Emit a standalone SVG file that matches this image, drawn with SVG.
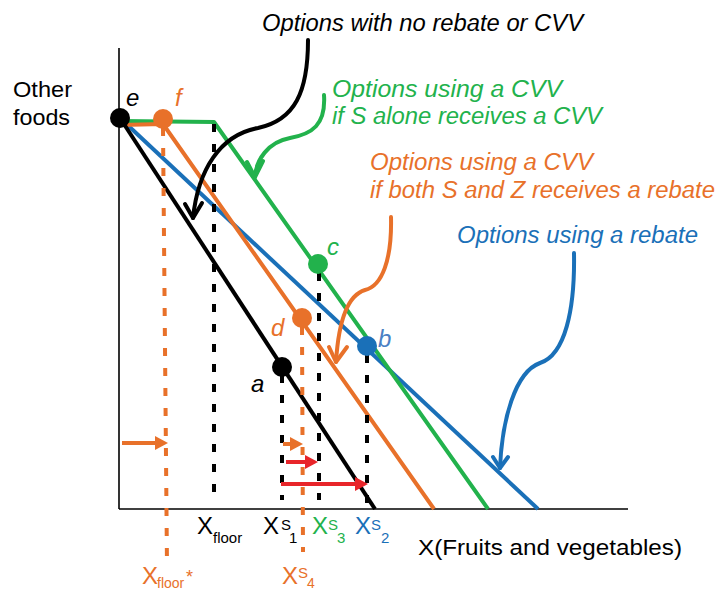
<svg xmlns="http://www.w3.org/2000/svg" width="718" height="592" viewBox="0 0 718 592">
<defs>
<style>
text{font-family:"Liberation Sans",Arial,sans-serif;}
.it{font-style:italic;}
.t22{font-size:22px;}
.t23{font-size:23px;}
.pt{font-size:24px;font-style:italic;}
.xl{font-size:24px;}
.sub{font-size:15px;}
.blk{fill:#000;}
.grn{fill:#22b24c;}
.org{fill:#e8712a;}
.blu{fill:#1a70b8;}
.lblu{fill:#4a80c4;}
.axis{stroke:#000;stroke-width:1.6;fill:none;}
.bl{stroke-width:4;fill:none;stroke-linejoin:round;}
.dash{stroke-width:4;stroke-dasharray:8 12;fill:none;}
.curve{stroke-width:4;fill:none;stroke-linecap:round;stroke-linejoin:round;}
</style>
</defs>

<g id="axes">
<line class="axis" x1="119" y1="48" x2="119" y2="509"/>
<line class="axis" x1="119" y1="509" x2="628" y2="509"/>
</g>

<g id="budget-lines">
<polyline class="bl" stroke="#1a70b8" points="120,118 538,509"/>
<polyline class="bl" stroke="#22b24c" points="120,121 214,122 488,509"/>
<polyline class="bl" stroke="#e8712a" points="120,125 163,124 434,509"/>
<polyline class="bl" stroke="#000" points="120,118 375,509"/>
</g>

<g id="connectors">
<line class="dash" stroke="#000" x1="214" y1="124" x2="214" y2="500"/>
<line class="dash" stroke="#000" x1="282" y1="375" x2="282" y2="500"/>
<line class="dash" stroke="#000" x1="319" y1="273" x2="319" y2="500"/>
<line class="dash" stroke="#000" x1="367" y1="355" x2="367" y2="510"/>
<line class="dash" stroke="#e8712a" x1="163" y1="128" x2="167" y2="566"/>
<line class="dash" stroke="#e8712a" x1="302" y1="327" x2="303" y2="552"/>

<line x1="122" y1="443" x2="156" y2="443" stroke="#e8712a" stroke-width="4"/>
<polygon points="155,436 168,443 155,450" fill="#e8712a"/>
<line x1="283" y1="444" x2="291" y2="444" stroke="#e8712a" stroke-width="4"/>
<polygon points="290,437 303,444 290,451" fill="#e8712a"/>
<line x1="286" y1="462" x2="306" y2="462" stroke="#e8252a" stroke-width="4"/>
<polygon points="305,455 318,462 305,469" fill="#e8252a"/>
<line x1="281" y1="484" x2="356" y2="484" stroke="#e8252a" stroke-width="4"/>
<polygon points="355,477 368,484 355,491" fill="#e8252a"/>

<path class="curve" stroke="#000" d="M308,40 C308,92 295,120 258,128 C220,135 198,170 193,218"/>
<polyline class="curve" stroke="#000" points="185,204 193,218 202,203"/>
<path class="curve" stroke="#22b24c" d="M324,95 C326,125 312,134 290,138 C268,142 256,160 255,177"/>
<polyline class="curve" stroke="#22b24c" points="247,162 255,177 263,161"/>
<path class="curve" stroke="#e8712a" d="M391,217 C392,260 382,286 365,290 C345,296 338,330 336,362"/>
<polyline class="curve" stroke="#e8712a" points="329,347 336,362 347,347"/>
<path class="curve" stroke="#1a70b8" d="M574,253 C575,310 565,355 540,363 C515,372 502,420 500,468"/>
<polyline class="curve" stroke="#1a70b8" points="493,457 500,468 508,457"/>
</g>

<g id="node-e">
<circle cx="120" cy="118" r="10" fill="#000"/>
<text class="pt blk" x="126" y="106">e</text>
</g>
<g id="node-f">
<circle cx="163" cy="119" r="10" fill="#e8712a"/>
<text class="pt org" x="175" y="106">f</text>
</g>
<g id="node-c">
<circle cx="318" cy="264" r="10" fill="#22b24c"/>
<text class="pt grn" x="327" y="255">c</text>
</g>
<g id="node-b">
<circle cx="367" cy="346" r="10" fill="#1a70b8"/>
<text class="pt lblu" x="378" y="347">b</text>
</g>
<g id="node-d">
<circle cx="302" cy="318" r="10" fill="#e8712a"/>
<text class="pt org" x="271" y="336">d</text>
</g>
<g id="node-a">
<circle cx="282" cy="367" r="10" fill="#000"/>
<text class="pt blk" x="251" y="392">a</text>
</g>

<g id="labels">
<text class="t22 blk" x="13" y="97" textLength="59" lengthAdjust="spacingAndGlyphs">Other</text>
<text class="t22 blk" x="13" y="125" textLength="57" lengthAdjust="spacingAndGlyphs">foods</text>
<text class="t22 blk" x="418" y="555" textLength="264" lengthAdjust="spacingAndGlyphs">X(Fruits and vegetables)</text>

<text class="it t23 blk" x="262" y="31" textLength="321" lengthAdjust="spacingAndGlyphs">Options with no rebate or CVV</text>
<text class="it t23 grn" x="332" y="97" textLength="230" lengthAdjust="spacingAndGlyphs">Options using a CVV</text>
<text class="it t23 grn" x="332" y="124" textLength="270" lengthAdjust="spacingAndGlyphs">if S alone receives a CVV</text>
<text class="it t23 org" x="370" y="170" textLength="223" lengthAdjust="spacingAndGlyphs">Options using a CVV</text>
<text class="it t23 org" x="370" y="198" textLength="345" lengthAdjust="spacingAndGlyphs">if both S and Z receives a rebate</text>
<text class="it t23 blu" x="457" y="243" textLength="241" lengthAdjust="spacingAndGlyphs">Options using a rebate</text>

<text class="xl blk" x="197" y="534">X</text><text class="sub blk" x="213" y="543">floor</text>
<text class="xl blk" x="263" y="534">X</text><text class="sub blk" x="281" y="530">S</text><text class="sub blk" x="289" y="543">1</text>
<text class="xl grn" x="312" y="534">X</text><text class="sub grn" x="328" y="530">S</text><text class="sub grn" x="337" y="543">3</text>
<text class="xl blu" x="355" y="534">X</text><text class="sub blu" x="371" y="530">S</text><text class="sub blu" x="381" y="543">2</text>
<text class="xl org" x="142" y="584">X</text><text class="org" style="font-size:14px" x="157" y="588">floor</text><text class="org" style="font-size:18px" x="186" y="583">*</text>
<text class="xl org" x="282" y="584">X</text><text class="sub org" x="298" y="578">S</text><text class="org" style="font-size:14px" x="307" y="588">4</text>
</g>
</svg>
